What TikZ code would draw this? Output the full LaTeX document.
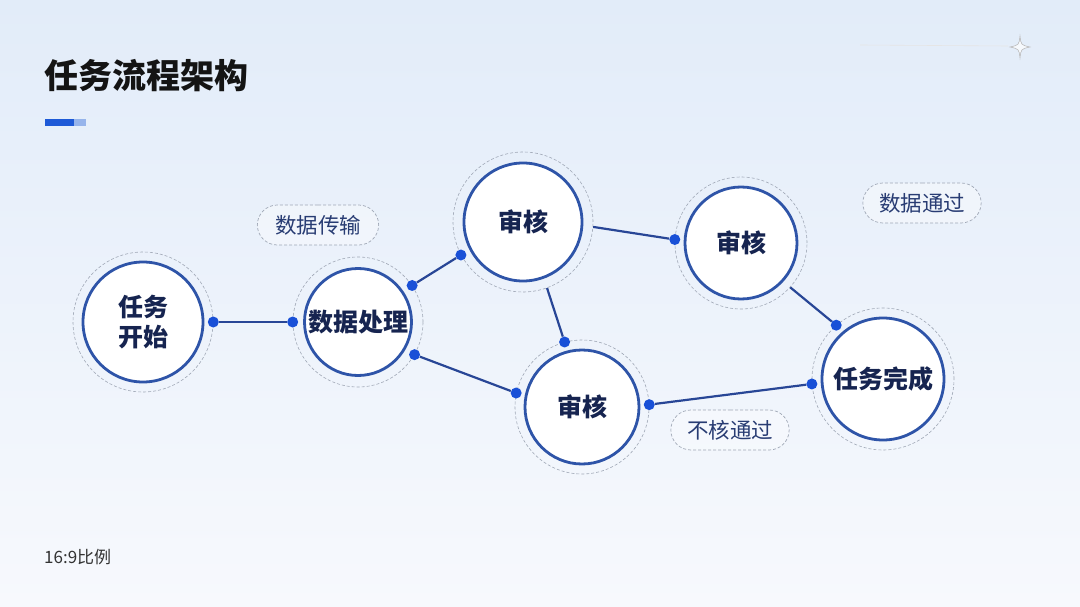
\documentclass[tikz,border=0pt]{standalone}
\usepackage{fontspec}
\setmainfont{Noto Sans CJK SC}
\usetikzlibrary{shapes.geometric,shapes.misc}
\definecolor{bgtop}{RGB}{226,236,249}
\definecolor{bgbot}{RGB}{247,249,253}
\definecolor{ringblue}{RGB}{46,84,168}
\definecolor{linkblue}{RGB}{40,70,150}
\definecolor{dotblue}{RGB}{25,80,215}
\definecolor{navy}{RGB}{22,36,80}
\definecolor{lbl}{RGB}{40,60,115}
\definecolor{dashgray}{RGB}{160,168,182}
\definecolor{barblue}{RGB}{30,90,215}
\definecolor{barlight}{RGB}{150,180,235}
\tikzset{
  ring/.style={circle, draw=dashgray, densely dashed, line width=0.6pt, inner sep=0pt, minimum size=#1},
  stage/.style={circle, draw=ringblue, line width=2.8pt, fill=white, inner sep=0pt, minimum size=#1,
     font=\fontsize{25}{30}\selectfont\bfseries, text=navy, align=center},
  link/.style={draw=linkblue, line width=2.2pt},
  dotn/.style={circle, fill=dotblue, inner sep=0pt, minimum size=11pt},
  tag/.style={rounded rectangle, draw=dashgray, densely dashed, line width=0.7pt, fill=white, fill opacity=0.35, text opacity=1,
     minimum width=#1, minimum height=40pt, font=\fontsize{21.5}{24}\selectfont, text=lbl},
}
\begin{document}
\begin{tikzpicture}[x=1pt,y=-1pt]
\useasboundingbox (0,0) rectangle (1080,607);
\shade[top color=bgtop, bottom color=bgbot] (0,0) rectangle (1080,607);
% title
\node[anchor=west, inner sep=0pt, font=\fontsize{34}{40}\selectfont\bfseries, text=black!92] (title) at (44,76) {任务流程架构};
\fill[barblue] (45,119) rectangle (74,126);
\fill[barlight] (74,119) rectangle (86,126);
% star
\draw[white!80!gray, line width=0.6pt] (860,45) -- (1008,46);
\fill[white!70!bgtop, draw=gray!60, line width=0.5pt] (1020,36) .. controls (1021,45) .. (1030,47) .. controls (1021,49) .. (1020,58) .. controls (1019,49) .. (1010,47) .. controls (1019,45) .. cycle;
% rings
\node[ring=140pt] (r1) at (143,322) {};
\node[ring=130pt] (r2) at (358,322) {};
\node[ring=140pt] (r3) at (523,222) {};
\node[ring=132pt] (r4) at (741,243) {};
\node[ring=134pt] (r5) at (582,407) {};
\node[ring=142pt] (r6) at (883,379) {};
% stages
\node[stage=120pt] (s1) at (143,322) {任务\\开始};
\node[stage=107pt] (s2) at (358,322) {数据处理};
\node[stage=118pt] (s3) at (523,222) {审核};
\node[stage=112pt] (s4) at (741,243) {审核};
\node[stage=114pt] (s5) at (582,407) {审核};
\node[stage=122pt] (s6) at (883,379) {任务完成};
% connectors
\node[dotn] (d1a) at (r1.0) {};
\node[dotn] (d1b) at (r2.180) {};
\draw[link] (d1a) -- (d1b);
\node[dotn] (d2a) at (r2.34) {};
\node[dotn] (d2b) at (r3.208) {};
\draw[link] (d2a) -- (d2b);
\node[dotn] (d3a) at (r2.-30) {};
\node[dotn] (d3b) at (r5.168) {};
\draw[link] (d3a) -- (d3b);
\node[dotn] (d4b) at (r4.177) {};
\draw[link] (r3.-4) -- (d4b);
\node[dotn] (d5b) at (r5.105) {};
\draw[link] (r3.-70) -- (d5b);
\node[dotn] (d6a) at (r5.2) {};
\node[dotn] (d6b) at (r6.184) {};
\draw[link] (d6a) -- (d6b);
\node[dotn] (d7b) at (r6.131) {};
\draw[link] (r4.-42) -- (d7b);
% tags
\node[tag=128pt] (t1) at (318,225) {数据传输};
\node[tag=125pt] (t2) at (730,430) {不核通过};
\node[tag=125pt] (t3) at (922,203) {数据通过};
% footer
\node[anchor=west, inner sep=0pt, font=\fontsize{17}{20}\selectfont, text=black!80] (foot) at (44,557) {16:9比例};
\end{tikzpicture}
\end{document}
